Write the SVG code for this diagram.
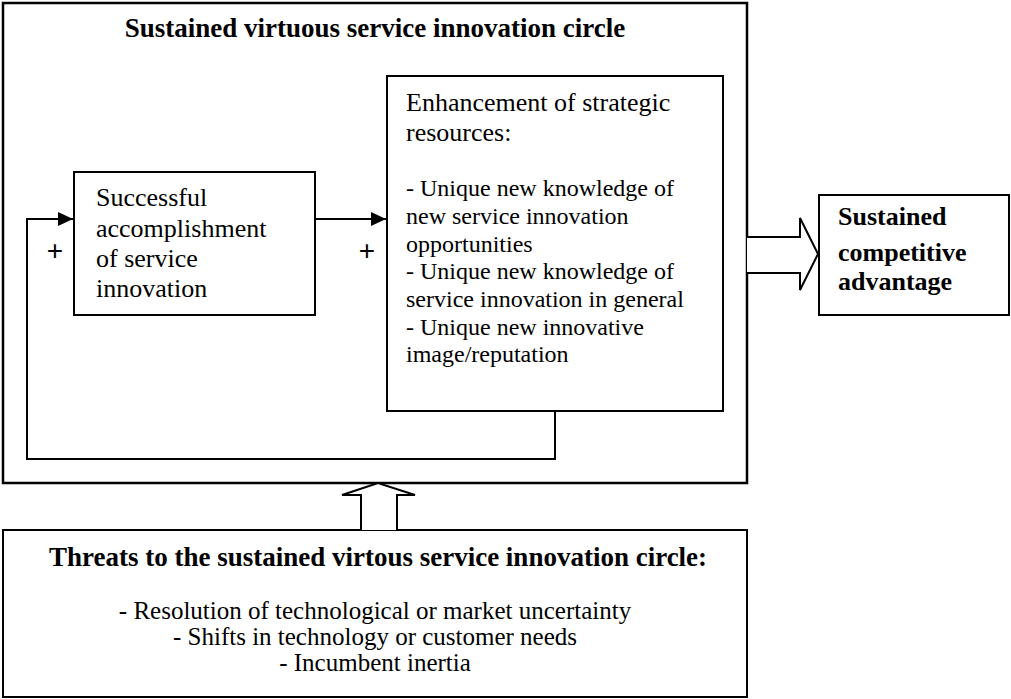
<svg xmlns="http://www.w3.org/2000/svg" width="1011" height="699" viewBox="0 0 1011 699">
<style>
.box{fill:#fff;stroke:#000;stroke-width:2}
.outer{fill:none;stroke:#000;stroke-width:2.5}
.ln{fill:none;stroke:#000;stroke-width:2}
.hollow{fill:#fff;stroke:#000;stroke-width:2;stroke-linejoin:miter}
.t{font-family:"Liberation Serif","Times New Roman",serif;font-size:26px;fill:#000}
.s{font-family:"Liberation Serif","Times New Roman",serif;font-size:24px;fill:#000}
.m{font-family:"Liberation Serif","Times New Roman",serif;font-size:25px;fill:#000}
.b{font-family:"Liberation Serif","Times New Roman",serif;font-size:26px;font-weight:bold;fill:#000}
.bt{font-family:"Liberation Serif","Times New Roman",serif;font-size:27px;font-weight:bold;fill:#000}
.p{font-family:"Liberation Sans",Arial,sans-serif;font-size:28px;fill:#000}
.c{text-anchor:middle}
</style>
<defs>
<marker id="ah" markerWidth="15" markerHeight="14" refX="15" refY="7" orient="auto" markerUnits="userSpaceOnUse">
<path d="M0,0 L15,7 L0,14 Z" fill="#000"/>
</marker>
</defs>
<g id="circle">
<rect class="outer" x="3" y="3" width="744" height="480"/>
<text class="bt c" x="375" y="37">Sustained virtuous service innovation circle</text>
</g>
<g id="success">
<rect class="box" x="74" y="172" width="241" height="143"/>
<text class="t" x="96" y="206">Successful</text>
<text class="t" x="96" y="237">accomplishment</text>
<text class="t" x="96" y="267">of service</text>
<text class="t" x="96" y="297">innovation</text>
</g>
<g id="resources">
<rect class="box" x="387" y="76" width="336" height="335"/>
<text class="t" x="406" y="111">Enhancement of strategic</text>
<text class="t" x="406" y="141">resources:</text>
<text class="s" x="406" y="196">- Unique new knowledge of</text>
<text class="s" x="406" y="224">new service innovation</text>
<text class="s" x="406" y="252">opportunities</text>
<text class="s" x="406" y="279">- Unique new knowledge of</text>
<text class="s" x="406" y="307">service innovation in general</text>
<text class="s" x="406" y="335">- Unique new innovative</text>
<text class="s" x="406" y="362">image/reputation</text>
</g>
<g id="advantage">
<rect class="box" x="819" y="195" width="190" height="120"/>
<text class="b" x="838" y="225">Sustained</text>
<text class="b" x="838" y="261">competitive</text>
<text class="b" x="838" y="290">advantage</text>
</g>
<g id="threats">
<rect class="box" x="3" y="530" width="744" height="167"/>
<text class="bt c" x="378" y="566">Threats to the sustained virtous service innovation circle:</text>
<text class="m c" x="375" y="619">- Resolution of technological or market uncertainty</text>
<text class="m c" x="375" y="645">- Shifts in technology or customer needs</text>
<text class="m c" x="375" y="671">- Incumbent inertia</text>
</g>
<g id="connectors">
<path class="ln" d="M315,219 H386" marker-end="url(#ah)"/>
<path class="ln" d="M555,411 V459 H27 V219 H73" marker-end="url(#ah)"/>
<text class="p c" x="55" y="260">+</text>
<text class="p c" x="367" y="260">+</text>
<path class="hollow" d="M747,237 H800 V218 L818,254 L800,290 V273 H747"/>
<path class="hollow" d="M361,530 V495 H342 L378,483 L415,495 H397 V530"/>
</g>
</svg>
